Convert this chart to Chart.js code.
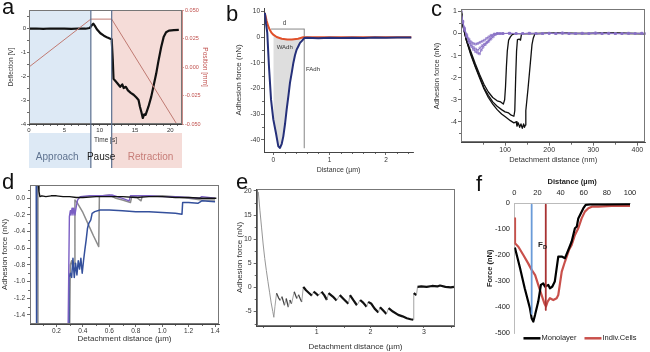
<!DOCTYPE html>
<html>
<head>
<meta charset="utf-8">
<script src="https://cdn.jsdelivr.net/npm/chart.js@4.4.1/dist/chart.umd.min.js"></script>
<style>
html, body { margin: 0; padding: 0; background: #fff; }
body { width: 650px; height: 352px; position: relative; overflow: hidden; font-family: 'Liberation Sans', Arial, sans-serif; }
canvas { position: absolute; }
.tag { position: absolute; font-size: 22px; line-height: 22px; color: #111; }
</style>
</head>
<body>
<canvas id="chartA" style="left:0;top:0" width="220" height="172"></canvas>
<canvas id="chartB" style="left:215px;top:0" width="215" height="175"></canvas>
<canvas id="chartC" style="left:430px;top:0" width="220" height="175"></canvas>
<canvas id="chartD" style="left:0;top:176px" width="225" height="176"></canvas>
<canvas id="chartE" style="left:225px;top:176px" width="240" height="176"></canvas>
<canvas id="chartF" style="left:465px;top:176px" width="185" height="176"></canvas>
<div class="tag" style="left:2px;top:-4px">a</div>
<div class="tag" style="left:226px;top:3px">b</div>
<div class="tag" style="left:431px;top:-2px">c</div>
<div class="tag" style="left:2px;top:171px">d</div>
<div class="tag" style="left:236px;top:171px">e</div>
<div class="tag" style="left:476px;top:173px">f</div>
<script>
// ---- panel a: deflection and piezo position over time
const aTime = [0,1,2,3,4,5,6,7,8,8.6,8.9,9.1,9.3,9.6,10.1,10.6,11.1,11.5,11.7,11.85,11.96,12.2,12.5,12.9,13.2,13.4,13.7,14.0,14.4,14.8,15.2,15.5,15.7,15.9,16.1,16.3,16.5,16.9,17.3,17.6,18.0,18.3,18.7,19.05,19.4,19.8,20.5,21.2];
const aDeflection = [-0.03,-0.02,-0.04,-0.02,-0.03,-0.03,-0.04,-0.02,-0.03,0.0,0.12,0.18,0.1,-0.05,-0.22,-0.32,-0.4,-0.45,-0.47,-1.3,-2.12,-2.2,-2.3,-2.45,-2.35,-2.5,-2.45,-2.6,-2.7,-2.78,-2.9,-3.0,-3.28,-3.5,-3.75,-3.6,-3.62,-3.28,-2.86,-2.45,-1.9,-1.4,-0.8,-0.38,-0.18,-0.11,-0.09,-0.08];
const aPosTime = [0, 8.75, 11.7, 20.9];
const aPosition = [0, 0.042, 0.042, -0.05];
const aPhaseEdges = [0, 8.75, 11.7, 21.65];
const aPhaseNames = ['Approach', 'Pause', 'Retraction'];
const aPhaseLabelX = [4.0, 10.2, 17.2];
const aTimeTicks = [0, 5, 10, 15, 20];
const aDeflTicks = [0, -1, -2, -3, -4];
const aPosTicks = [0.05, 0.025, 0, -0.025, -0.05];

// ---- panel b: adhesion force vs distance
const bBlueX = [-0.15,-0.13,-0.107,-0.077,-0.04,0,0.047,0.089,0.119,0.15,0.178,0.21,0.237,0.27,0.296,0.33,0.356,0.385,0.415,0.445,0.474,0.5,0.516,0.55,0.6,0.8,1.0,1.2,1.4,1.6,1.8,2.0,2.2,2.45];
const bBlueY = [9.5,5.5,1.7,-11.3,-24.3,-32,-37.3,-42.5,-43.1,-41.5,-38.6,-33.5,-28.2,-22.5,-17.8,-13.5,-10,-7,-4.8,-3.5,-2.2,-1.6,-1.2,-0.3,-0.2,-0.35,-0.2,-0.3,-0.15,-0.25,-0.1,-0.2,-0.1,-0.1];
const bRedX = [-0.15,-0.12,-0.09,-0.06,-0.03,0,0.06,0.15,0.25,0.33,0.44,0.53,0.6,1.0,1.5,2.0,2.45];
const bRedY = [9.5,6.5,4.3,2.8,1.7,1.0,0.1,-0.6,-0.85,-0.9,-0.6,0,0,0,0,0,0];
const bShadeRange = [0, 0.55];
const bDistX = [-0.04, 0.55];
const bDistY = [3.2, 3.2];
const bFadhX = [0.55, 0.55];
const bFadhY = [3.2, -43];
const bXTicks = [0, 1, 2];
const bYTicks = [10, 0, -10, -20, -30, -40];

// ---- panel c: detachment curves (nm)
const cBlack1X = [0,5,12,22,32,42,52,62,72,82,90,96,99,101,103,105,108,112,116,122,160,220,280,340,418];
const cBlack1Y = [1.15,0.35,-0.25,-0.8,-1.35,-1.85,-2.3,-2.65,-2.9,-3.05,-3.1,-3.2,-3.0,-2.4,-1.5,-0.8,-0.3,-0.15,-0.05,0,0,0.02,0,0.03,0];
const cBlack2X = [0,5,12,22,32,42,52,62,72,82,92,100,108,114,120,122,124,126,128,132,135,137,140,200,260,320,380,418];
const cBlack2Y = [1.15,0.3,-0.3,-0.9,-1.45,-1.95,-2.45,-2.8,-3.1,-3.3,-3.45,-3.55,-3.6,-3.7,-3.75,-3.5,-2.0,-0.8,-0.28,-0.25,-0.3,-0.05,0,0.01,0,0.02,0,0];
const cBlack3X = [0,5,12,22,32,42,52,62,72,82,92,102,112,120,125,127,130,133,136,139,142,144,146,147,152,157,161,164,168,230,300,360,418];
const cBlack3Y = [1.15,0.3,-0.3,-0.95,-1.5,-2.0,-2.5,-2.9,-3.2,-3.45,-3.65,-3.8,-3.95,-4.05,-4.0,-4.2,-4.05,-4.25,-4.1,-4.3,-4.1,-4.25,-4.15,-3.5,-2.5,-1.4,-0.5,-0.2,0,0.02,0,0.01,0];
const cPurple1X = [0,4,8,13,18,23,28,33,38,43,48,53,58,63,68,75,82,88];
const cPurple1Y = [1.0,0.55,0.25,-0.05,-0.25,-0.38,-0.45,-0.48,-0.45,-0.4,-0.35,-0.3,-0.22,-0.15,-0.08,-0.03,0,0];
const cPurple2X = [0,4,8,13,18,23,28,33,38,43,48,53,58,63,68,73,78,85];
const cPurple2Y = [1.0,0.55,0.2,-0.1,-0.32,-0.5,-0.62,-0.7,-0.76,-0.65,-0.55,-0.48,-0.42,-0.35,-0.25,-0.15,-0.05,0];
const cPurple3X = [0,4,8,13,18,23,28,33,38,42,46,50,55,60,65,70,76,82,90];
const cPurple3Y = [1.0,0.5,0.15,-0.15,-0.4,-0.58,-0.72,-0.82,-0.88,-0.92,-0.75,-0.62,-0.5,-0.38,-0.25,-0.12,-0.03,0,0];
const cPurpleTailX = [95,110,125,140,155,170,185,200,215,230,245,260,275,290,305,320,335,350,365,380,395,410,418];
const cPurpleTailY = [0,0.01,0,0,0.01,0,0,0.01,0,0.02,0,0,0.01,0,0.02,0,0.01,0,0,0.01,0,0.01,0];
const cXTicks = [100, 200, 300, 400];
const cYTicks = [1, 0, -1, -2, -3, -4];

// ---- panel d: detachment curves (µm)
const dBlackX = [0.062,0.068,0.075,0.09,0.12,0.16,0.2,0.25,0.3,0.35,0.4,0.5,0.6,0.7,0.8,0.9,1.0,1.1,1.2,1.3,1.41];
const dBlackY = [0.2,0.08,0.02,0.03,0.02,0.03,0.03,0.02,0.02,0.01,0.01,0.02,0.02,0.02,0.01,0.02,0.02,0.01,0.01,0.0,0.0];
const dBlueX = [0.047,0.05,0.2,0.29,0.295,0.305,0.315,0.325,0.335,0.345,0.355,0.365,0.375,0.385,0.395,0.405,0.415,0.425,0.435,0.445,0.46,0.47,0.49,0.53,0.6,0.7,0.8,0.9,1.0,1.1,1.15,1.155,1.2,1.27,1.3,1.4];
const dBlueY = [0.2,-1.6,null,-1.6,-0.95,-0.9,-0.95,-0.72,-0.95,-0.78,-0.92,-0.75,-0.85,-0.72,-0.9,-0.75,-0.62,-0.5,-0.36,-0.3,-0.26,-0.18,-0.16,-0.14,-0.14,-0.15,-0.16,-0.16,-0.17,-0.18,-0.19,-0.05,-0.05,-0.06,-0.03,-0.04];
const dGreyX = [0.058,0.06,0.2,0.3,0.305,0.315,0.325,0.335,0.34,0.36,0.4,0.44,0.48,0.52,0.525,0.55,0.6,0.65,0.7,0.76,0.77,0.8,0.84,0.85,1.0,1.1,1.2,1.3,1.4];
const dGreyY = [0.2,-1.6,null,-1.6,-0.8,-0.75,-0.83,-0.78,-0.02,-0.06,-0.17,-0.31,-0.45,-0.58,0.03,0.03,0.04,0.0,-0.02,-0.05,0.02,0.02,-0.03,0.03,0.03,0.02,0.0,-0.02,-0.02];
const dPurpleX = [0.288,0.298,0.305,0.31,0.318,0.325,0.332,0.34,0.35,0.36,0.38,0.45,0.55,0.62,0.7,0.75,0.76,0.9,1.0,1.1,1.2,1.28,1.3,1.4];
const dPurpleY = [-1.6,-0.22,-0.15,-0.2,-0.12,-0.2,-0.12,-0.2,-0.1,-0.02,0.02,0.03,0.03,0.04,0.0,-0.03,0.03,0.03,0.02,0.02,0.01,0.0,0.02,0.0];
const dXTicks = [0.2, 0.4, 0.6, 0.8, 1.0, 1.2, 1.4];
const dYTicks = [0, -0.2, -0.4, -0.6, -0.8, -1.0, -1.2, -1.4];

// ---- panel e: sawtooth unbinding curve
const eDescentX = [-0.09,-0.06,-0.03,0.0,0.03,0.06,0.09,0.12,0.15,0.18,0.2];
const eDescentY = [19.8,16,12.5,9,6,3.5,1.2,-1,-3.2,-5,-6.2];
const eTeethX = [0.2,0.22,0.25,0.29,0.32,0.35,0.38,0.40,0.43,0.47,0.50,0.53,0.58,0.61,0.63,0.66,0.69,0.72,0.75,0.8,0.86,0.91,0.94,0.98,1.03,1.09,1.14,1.19,1.22,1.3,1.37,1.43,1.5,1.59,1.62,1.68,1.75,1.81,1.87,1.93,1.96,2.02,2.08,2.15,2.18,2.24,2.30,2.34,2.42,2.52,2.6,2.68,2.75,2.8,2.81,2.86,2.88,2.95,3.05,3.15,3.25,3.3,3.4,3.5,3.56];
const eTeethY = [-6.2,-4,-1.2,-2.2,-2.7,-1.9,-3.0,-3.7,-2.3,-4.1,-2.6,-3.4,-0.9,-1.8,-2.3,-1.5,-2.3,-3.0,0.1,-0.6,-1.2,-1.7,-0.9,-1.2,-1.7,-0.9,-1.6,-2.6,-1.2,-1.9,-2.7,-1.6,-2.4,-3.4,-1.6,-2.6,-3.7,-2.6,-3.2,-4.0,-3.0,-3.4,-4.4,-5.2,-4.1,-4.8,-5.5,-4.3,-5.0,-5.7,-6.0,-6.4,-6.6,-6.7,-1.2,-1.6,0.1,0.2,0.1,0.3,0.2,0.4,0.1,0.0,0.1];
const eThickFrom = 0.75;
const eXTicks = [1, 2, 3];
const eYTicks = [20, 15, 10, 5, 0, -5];

// ---- panel f: monolayer vs individual cells
const fSeriesNames = ['Monolayer', 'Indiv.Cells'];
const fBlackX = [0.5,5,9,13.5,15,16.4,17.9,20.7,23,25,26.5,29.4,30.8,32.9,35,38,41,43.8,47.3,49.6,52.4,54,55.3,56.8,59.7,61.7,65.4,78,100];
const fBlackY = [-170,-250,-327,-404,-442,-455,-430,-378,-314,-308,-320,-314,-327,-320,-301,-205,-205,-211,-173,-147,-96,-90,-58,-45,-19,-6,-4,-4,-3];
const fRedX = [0,0.6,3.5,7.8,12,15,18,20.7,23.6,26,27.4,28.8,30.8,33.7,36.6,38,41,43.8,47.3,49.6,52.4,55.3,58.2,61,64,67,72.6,84,100];
const fRedY = [-58,-154,-167,-199,-231,-256,-276,-314,-353,-385,-397,-378,-365,-372,-365,-353,-263,-224,-179,-160,-122,-96,-58,-32,-19,-13,-13,-10,-10];
const fMarkBlueX = [15, 15];
const fMarkBlueY = [-5, -425];
const fMarkRedX = [27.2, 27.2];
const fMarkRedY = [-5, -410];
const fXTicks = [0, 20, 40, 60, 80, 100];
const fYTicks = [0, -100, -200, -300, -400, -500];

Chart.defaults.font.family = "'Liberation Sans', Arial, sans-serif";
Chart.defaults.color = '#333';

function pts(xs, ys) {
    return xs.map((x, i) => ({ x: x, y: ys[i] }));
}

function linearAxis(o) {
    const horiz = o.position === 'bottom' || o.position === 'top';
    const line = o.line || '#444';
    const text = o.color || '#333';
    const tickLen = o.tickLen === undefined ? 3 : o.tickLen;
    return {
        type: 'linear',
        position: o.position,
        min: o.min,
        max: o.max,
        afterBuildTicks: a => { a.ticks = o.ticks.map(v => ({ value: v })); },
        afterFit: a => { if (horiz) a.height = o.size; else a.width = o.size; },
        grid: { drawOnChartArea: false, drawTicks: tickLen > 0, tickLength: tickLen, color: line, lineWidth: 0.8 },
        border: { display: true, color: line, width: 1 },
        ticks: {
            font: { size: o.font || 7 }, color: text, padding: o.tickPad === undefined ? 1 : o.tickPad,
            autoSkip: false, maxRotation: 0, callback: o.fmt || (v => String(v))
        },
        title: {
            display: true, text: o.title, color: text,
            font: { size: o.titleSize || 8, weight: o.bold ? 'bold' : 'normal' },
            padding: o.position === 'bottom' ? { top: 0, bottom: o.titlePad || 0 } : { top: o.titlePad || 0, bottom: 0 }
        }
    };
}

function lineSet(data, color, width, extra) {
    return Object.assign({ data: data, borderColor: color, backgroundColor: color, borderWidth: width, pointRadius: 0, fill: false, clip: 0 }, extra || {});
}

function baseOptions(scales, padding) {
    return {
        responsive: false,
        maintainAspectRatio: false,
        animation: false,
        layout: { padding: padding },
        plugins: { legend: { display: false }, tooltip: { enabled: false } },
        elements: { line: { tension: 0, borderJoinStyle: 'round' } },
        scales: scales
    };
}

// Decorations drawn through the chart's own scales: bands, frame, minor ticks, marker lines, labels
function deco(cfg) {
    return {
        id: 'deco',
        beforeDraw(chart) {
            const { ctx, chartArea: area, scales } = chart;
            (cfg.bands || []).forEach(b => {
                const x0 = scales.x.getPixelForValue(b.from);
                const x1 = scales.x.getPixelForValue(b.to);
                ctx.save();
                ctx.fillStyle = b.color;
                ctx.fillRect(x0, area.top, x1 - x0, area.bottom - area.top);
                if (b.lower) ctx.fillRect(x0, b.lower[0], x1 - x0, b.lower[1] - b.lower[0]);
                ctx.restore();
            });
        },
        afterDraw(chart) {
            const { ctx, chartArea: area, scales } = chart;
            ctx.save();
            if (cfg.frame) {
                ctx.strokeStyle = cfg.frame;
                ctx.lineWidth = 1;
                ctx.strokeRect(Math.round(area.left) + 0.5, Math.round(area.top) + 0.5,
                    Math.round(area.right - area.left) - 1, Math.round(area.bottom - area.top) - 1);
            }
            (cfg.minor || []).forEach(m => {
                const s = scales[m.axis];
                ctx.strokeStyle = m.color || '#444';
                ctx.lineWidth = 0.8;
                m.values.forEach(v => {
                    const p = Math.round(s.getPixelForValue(v)) + 0.5;
                    ctx.beginPath();
                    if (s.position === 'bottom') { ctx.moveTo(p, area.bottom); ctx.lineTo(p, area.bottom + 2); }
                    else if (s.position === 'top') { ctx.moveTo(p, area.top); ctx.lineTo(p, area.top - 2); }
                    else if (s.position === 'left') { ctx.moveTo(area.left, p); ctx.lineTo(area.left - 2, p); }
                    else { ctx.moveTo(area.right, p); ctx.lineTo(area.right + 2, p); }
                    ctx.stroke();
                });
            });
            (cfg.vlines || []).forEach(l => {
                const x = scales.x.getPixelForValue(l.x);
                ctx.strokeStyle = l.color;
                ctx.lineWidth = l.width;
                ctx.beginPath();
                ctx.moveTo(x, area.top);
                ctx.lineTo(x, l.to);
                ctx.stroke();
            });
            (cfg.texts || []).forEach(t => {
                const x = t.px !== undefined ? t.px : scales.x.getPixelForValue(t.x);
                const y = t.py !== undefined ? t.py : scales.y.getPixelForValue(t.y);
                ctx.fillStyle = t.color || '#333';
                ctx.font = (t.weight || 'normal') + ' ' + t.size + 'px ' + Chart.defaults.font.family;
                ctx.textAlign = t.align || 'center';
                ctx.textBaseline = 'middle';
                ctx.fillText(t.text, x, y);
                if (t.sub) {
                    const w = ctx.measureText(t.text).width;
                    ctx.font = (t.weight || 'normal') + ' ' + (t.size * 0.7) + 'px ' + Chart.defaults.font.family;
                    ctx.textAlign = 'left';
                    ctx.fillText(t.sub, x + (t.align === 'left' ? w : w / 2), y + t.size * 0.3);
                }
            });
            if (cfg.legend) {
                const L = cfg.legend;
                ctx.font = L.size + 'px ' + Chart.defaults.font.family;
                ctx.textBaseline = 'middle';
                ctx.textAlign = 'left';
                const widths = L.items.map(it => L.sample + 1 + ctx.measureText(it.text).width);
                const total = widths.reduce((a, b) => a + b, 0) + L.gap * (L.items.length - 1);
                let x = L.cx - total / 2;
                L.items.forEach((it, i) => {
                    ctx.strokeStyle = it.color;
                    ctx.lineWidth = 2.5;
                    ctx.beginPath();
                    ctx.moveTo(x, L.py);
                    ctx.lineTo(x + L.sample, L.py);
                    ctx.stroke();
                    ctx.fillStyle = '#222';
                    ctx.fillText(it.text, x + L.sample + 1, L.py);
                    x += widths[i] + L.gap;
                });
            }
            ctx.restore();
        }
    };
}

// ===== panel a =====
new Chart(document.getElementById('chartA'), {
    type: 'line',
    data: {
        datasets: [
            lineSet(pts(aPosTime, aPosition), '#c07a72', 1, { yAxisID: 'y2' }),
            lineSet(pts(aTime, aDeflection), '#111', 2.2, { yAxisID: 'y' })
        ]
    },
    options: baseOptions({
        x: linearAxis({ position: 'bottom', min: 0, max: 21.65, ticks: aTimeTicks, size: 22, font: 6, tickLen: 2,
            title: 'Time [s]', titleSize: 6.5, titlePad: 2.1 }),
        y: linearAxis({ position: 'left', min: -4, max: 0.75, ticks: aDeflTicks, size: 29, font: 6, tickLen: 2,
            title: 'Deflection [V]', titleSize: 6.5, titlePad: 7.8 }),
        y2: linearAxis({ position: 'right', min: -0.05, max: 0.05, ticks: aPosTicks, size: 38, font: 5.5, tickLen: 2,
            fmt: v => v.toFixed(3), title: 'Position [mm]', titleSize: 6.5, titlePad: 11,
            color: '#c0504d', line: '#c98a86' })
    }, { top: 10, right: 0, bottom: 26, left: 0 }),
    plugins: [deco({
        frame: '#777',
        bands: [
            { from: aPhaseEdges[0], to: aPhaseEdges[1], color: '#dde9f5', lower: [133, 168] },
            { from: aPhaseEdges[2], to: aPhaseEdges[3], color: '#f5dcd8', lower: [133, 168] }
        ],
        minor: [
            { axis: 'x', values: [1,2,3,4,6,7,8,9,11,12,13,14,16,17,18,19,21] },
            { axis: 'y', values: [0.5,-0.5,-1.5,-2.5,-3.5] }
        ],
        vlines: [
            { x: aPhaseEdges[1], to: 168, color: '#5b6f8f', width: 1.2 },
            { x: aPhaseEdges[2], to: 168, color: '#5b6f8f', width: 1.2 }
        ],
        texts: [
            { x: aPhaseLabelX[0], py: 157, text: aPhaseNames[0], size: 10, color: '#5f7390' },
            { x: aPhaseLabelX[1], py: 157, text: aPhaseNames[1], size: 10, color: '#222' },
            { x: aPhaseLabelX[2], py: 157, text: aPhaseNames[2], size: 10, color: '#c77d78' }
        ]
    })]
});

// ===== panel b =====
const bShade = pts(bBlueX, bBlueY).filter(p => p.x >= bShadeRange[0] && p.x <= bShadeRange[1]);
new Chart(document.getElementById('chartB'), {
    type: 'line',
    data: {
        datasets: [
            lineSet(pts(bBlueX, bBlueY), '#25307a', 2),
            lineSet(pts(bRedX, bRedY), '#e0502a', 2),
            lineSet(bShade, 'rgba(0,0,0,0)', 0, { fill: 1, backgroundColor: 'rgba(200,200,200,0.6)' }),
            lineSet(pts(bDistX, bDistY), '#888', 1),
            lineSet(pts(bFadhX, bFadhY), '#999', 1.2)
        ]
    },
    options: baseOptions({
        x: linearAxis({ position: 'bottom', min: -0.165, max: 2.48, ticks: bXTicks, size: 23, font: 6.5,
            title: 'Distance (\u00b5m)', titleSize: 7, titlePad: 0.8 }),
        y: linearAxis({ position: 'left', min: -44.7, max: 11.4, ticks: bYTicks, size: 49, font: 6.5,
            title: 'Adhesion force (nN)', titleSize: 8, titlePad: 18.5 })
    }, { top: 8, right: 17, bottom: 0, left: 0 }),
    plugins: [deco({
        minor: [
            { axis: 'x', values: [0.2,0.4,0.6,0.8,1.2,1.4,1.6,1.8,2.2,2.4] },
            { axis: 'y', values: [5,-5,-15,-25,-35] }
        ],
        texts: [
            { x: 0.2, y: 5.3, text: 'd', size: 6.5, color: '#444' },
            { x: 0.06, y: -3.8, text: 'WAdh', size: 6, color: '#333', align: 'left' },
            { x: 0.58, y: -12.6, text: 'FAdh', size: 6, color: '#333', align: 'left' }
        ]
    })]
});

// ===== panel c =====
const cPurpleStyle = { pointRadius: 1.3, pointStyle: 'rect', pointBorderWidth: 0.7, pointBackgroundColor: 'rgba(255,255,255,0)', pointBorderColor: '#8a72c6' };
new Chart(document.getElementById('chartC'), {
    type: 'line',
    data: {
        datasets: [
            lineSet(pts(cPurple1X.concat(cPurpleTailX), cPurple1Y.concat(cPurpleTailY)), '#8a72c6', 1, cPurpleStyle),
            lineSet(pts(cPurple2X.concat(cPurpleTailX), cPurple2Y.concat(cPurpleTailY)), '#8a72c6', 1, cPurpleStyle),
            lineSet(pts(cPurple3X.concat(cPurpleTailX), cPurple3Y.concat(cPurpleTailY)), '#8a72c6', 1, cPurpleStyle),
            lineSet(pts(cBlack1X, cBlack1Y), '#111', 1.3),
            lineSet(pts(cBlack2X, cBlack2Y), '#111', 1.3),
            lineSet(pts(cBlack3X, cBlack3Y), '#111', 1.3)
        ]
    },
    options: baseOptions({
        x: linearAxis({ position: 'bottom', min: 0, max: 418, ticks: cXTicks, size: 22.3, font: 7, tickPad: 0,
            title: 'Detachment distance (nm)', titleSize: 7.5, titlePad: 0.5 }),
        y: linearAxis({ position: 'left', min: -4.95, max: 1.1, ticks: cYTicks, size: 31, font: 7,
            title: 'Adhesion force (nN)', titleSize: 7.5, titlePad: 2.2 })
    }, { top: 9.3, right: 2, bottom: 10, left: 0 }),
    plugins: [deco({
        frame: '#777',
        minor: [
            { axis: 'x', values: [50,150,250,350] },
            { axis: 'y', values: [0.5,-0.5,-1.5,-2.5,-3.5,-4.5] }
        ]
    })]
});

// ===== panel d =====
new Chart(document.getElementById('chartD'), {
    type: 'line',
    data: {
        datasets: [
            lineSet(pts(dBlackX, dBlackY), '#111', 1.4),
            lineSet(pts(dPurpleX, dPurpleY), '#7b5fc4', 1.4),
            lineSet(pts(dBlueX, dBlueY), '#34509c', 1.5),
            lineSet(pts(dGreyX, dGreyY), '#8c8c8c', 1.5)
        ]
    },
    options: baseOptions({
        x: linearAxis({ position: 'bottom', min: 0, max: 1.43, ticks: dXTicks, size: 20, font: 6.5, tickPad: 0,
            fmt: v => v.toFixed(1), title: 'Detachment distance (\u00b5m)', titleSize: 8, titlePad: 0.9 }),
        y: linearAxis({ position: 'left', min: -1.51, max: 0.16, ticks: dYTicks, size: 30, font: 6.5, tickPad: 2,
            fmt: v => v.toFixed(1), title: 'Adhesion force (nN)', titleSize: 8, titlePad: 0.2 })
    }, { top: 9, right: 6, bottom: 8, left: 0 }),
    plugins: [deco({
        frame: '#777',
        minor: [
            { axis: 'x', values: [0.1,0.3,0.5,0.7,0.9,1.1,1.3] },
            { axis: 'y', values: [0.1,-0.1,-0.3,-0.5,-0.7,-0.9,-1.1,-1.3] }
        ]
    })]
});

// ===== panel e =====
// rising jumps are thin grey; the early teeth are thinner than the later ones
const eRising = c => c.p1.parsed.y - c.p0.parsed.y > 0.5;
new Chart(document.getElementById('chartE'), {
    type: 'line',
    data: {
        datasets: [
            lineSet(pts(eTeethX, eTeethY), '#111', 2.2, {
                segment: {
                    borderColor: c => (eRising(c) ? '#8a8a8a' : (c.p0.parsed.x < eThickFrom ? '#444' : '#111')),
                    borderWidth: c => (eRising(c) ? 0.8 : (c.p0.parsed.x < eThickFrom ? 1.3 : 2.2))
                }
            }),
            lineSet(pts(eDescentX, eDescentY), '#8a8a8a', 0.9)
        ]
    },
    options: baseOptions({
        x: linearAxis({ position: 'bottom', min: -0.12, max: 3.566, ticks: eXTicks, size: 26, font: 7, tickLen: 2, tickPad: 0,
            title: 'Detachment distance (\u00b5m)', titleSize: 8, titlePad: 0.5 }),
        y: linearAxis({ position: 'left', min: -8, max: 20.4, ticks: eYTicks, size: 31.7, font: 7, tickPad: 2,
            title: 'Adhesion force (nN)', titleSize: 8, titlePad: 10.2 })
    }, { top: 13, right: 10.7, bottom: 0, left: 0 }),
    plugins: [deco({
        frame: '#777',
        minor: [
            { axis: 'x', values: [0,0.5,1.5,2.5,3.5] },
            { axis: 'y', values: [17.5,12.5,7.5,2.5,-2.5,-7.5] }
        ]
    })]
});

// ===== panel f =====
new Chart(document.getElementById('chartF'), {
    type: 'line',
    data: {
        datasets: [
            lineSet(pts(fMarkBlueX, fMarkBlueY), '#6a9bd8', 1.8),
            lineSet(pts(fMarkRedX, fMarkRedY), '#a83232', 1.8),
            lineSet(pts(fBlackX, fBlackY), '#000', 2.2, { label: fSeriesNames[0] }),
            lineSet(pts(fRedX, fRedY), '#c9504b', 2.2, { label: fSeriesNames[1] })
        ]
    },
    options: baseOptions({
        x: linearAxis({ position: 'top', min: 0, max: 100, ticks: fXTicks, size: 27.3, font: 7.5, tickLen: 0, tickPad: 5.5,
            title: 'Distance (\u00b5m)', titleSize: 7.5, bold: true, titlePad: 1.2, line: '#bbb', color: '#222' }),
        y: linearAxis({ position: 'left', min: -500, max: 0, ticks: fYTicks, size: 49.3, font: 7.5, tickLen: 0, tickPad: 4.3,
            title: 'Force (nN)', titleSize: 7.5, bold: true, titlePad: 20.5, line: '#bbb', color: '#222' })
    }, { top: 0, right: 20, bottom: 18.7, left: 0 }),
    plugins: [deco({
        texts: [{ x: 20.5, y: -160, text: 'F', sub: 'D', size: 8, weight: 'bold', color: '#222', align: 'left' }],
        legend: { py: 162.3, cx: 115, size: 7.5, sample: 17, gap: 8,
            items: [{ color: '#000', text: fSeriesNames[0] }, { color: '#c9504b', text: fSeriesNames[1] }] }
    })]
});
</script>
</body>
</html>
